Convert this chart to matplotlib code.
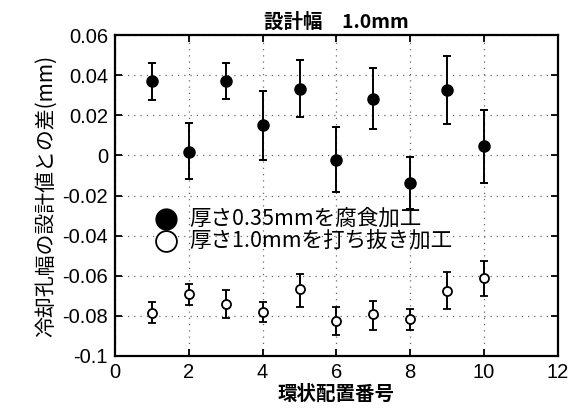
import numpy as np
import matplotlib.pyplot as plt

plt.rcParams['font.family'] = ['Liberation Sans', 'Noto Sans CJK JP', 'DejaVu Sans']

pos = np.arange(1, 11)

# etched 0.35mm sheet
etch_val = [0.037, 0.0017, 0.037, 0.0152, 0.0332, -0.0022, 0.0283, -0.0138, 0.0325, 0.0045]
etch_hi = [0.046, 0.016, 0.046, 0.032, 0.0475, 0.0143, 0.0438, -0.0007, 0.0497, 0.0225]
etch_lo = [0.0277, -0.012, 0.028, -0.0023, 0.0192, -0.018, 0.0132, -0.0267, 0.0155, -0.0137]

# punched 1.0mm sheet
punch_val = [-0.0785, -0.0693, -0.0743, -0.078, -0.0668, -0.0827, -0.0793, -0.0815, -0.0675, -0.0612]
punch_hi = [-0.0733, -0.0643, -0.067, -0.073, -0.0592, -0.0758, -0.0728, -0.0767, -0.0583, -0.0525]
punch_lo = [-0.0837, -0.0747, -0.0813, -0.0832, -0.0755, -0.0897, -0.0868, -0.0868, -0.0765, -0.0703]

xticks = [0, 2, 4, 6, 8, 10, 12]
yticks = [0.06, 0.04, 0.02, 0, -0.02, -0.04, -0.06, -0.08, -0.1]
ylabels = ['0.06', '0.04', '0.02', '0', '-0.02', '-0.04', '-0.06', '-0.08', '-0.1']

jp = ['Noto Sans CJK JP']

fig = plt.figure(figsize=(5.78, 4.08), dpi=100)
ax = fig.add_axes([0.199, 0.1275, 0.766, 0.7865])

def errs(v, lo, hi):
    v = np.array(v); lo = np.array(lo); hi = np.array(hi)
    return [v - lo, hi - v]

ax.errorbar(pos, etch_val, yerr=errs(etch_val, etch_lo, etch_hi), fmt='o', color='black',
            ms=8, capsize=3, elinewidth=1.4, capthick=1.4)
ax.errorbar(pos, punch_val, yerr=errs(punch_val, punch_lo, punch_hi), fmt='o', color='black',
            mfc='white', mec='black', mew=1.3, ms=6.5, capsize=3, elinewidth=1.4, capthick=1.4)

ax.set_xlim(0, 12)
ax.set_ylim(-0.1, 0.06)
ax.set_xticks(xticks)
ax.set_yticks(yticks)
ax.set_yticklabels(ylabels)
ax.tick_params(direction='in', length=5, width=1.3, labelsize=14.5, top=True, right=True, pad=5)
ax.grid(True, linestyle=(0, (1, 4)), color='dimgray', linewidth=0.9)
for s in ax.spines.values():
    s.set_linewidth(1.6)

# legend drawn by hand as big markers plus text
ax.plot([1.38], [-0.0315], 'o', color='black', ms=15)
ax.plot([1.38], [-0.0425], 'o', mfc='white', mec='black', mew=1.3, ms=15)
ax.text(2.0, -0.0315, '厚さ0.35mmを腐食加工', fontsize=15.5, va='center', family=jp)
ax.text(2.0, -0.0425, '厚さ1.0mmを打ち抜き加工', fontsize=15.5, va='center', family=jp)

ax.set_title('設計幅　1.0mm', fontsize=14, fontweight='bold', family=jp, pad=5)
ax.set_xlabel('環状配置番号', fontsize=14, fontweight='bold', family=jp, labelpad=2)
ax.set_ylabel('冷却孔幅の設計値との差(mm)', fontsize=15, family=jp, labelpad=4)

fig.savefig('out.png', dpi=100)
